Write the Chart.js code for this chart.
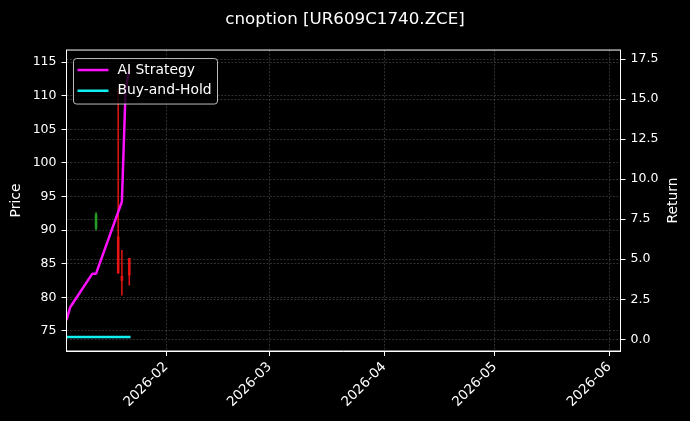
<!DOCTYPE html>
<html>
<head>
<meta charset="utf-8">
<script src="https://cdn.jsdelivr.net/npm/chart.js@4.4.1/dist/chart.umd.min.js"></script>
<style>
  html, body { margin: 0; padding: 0; background: #000; }
  canvas { display: block; }
</style>
</head>
<body>
<canvas id="myChart" width="690" height="421"></canvas>
<script>
// candles on the price axis (left)
var candleDates = ['2026-01-13', '2026-01-19', '2026-01-20', '2026-01-22'];
var candleOpen  = [90.3, 89.0, 83.1, 85.8];
var candleClose = [92.3, 83.6, 82.5, 83.3];
var candleHigh  = [92.6, 111.0, 87.0, 85.8];
var candleLow   = [90.0, 83.6, 80.3, 81.8];

// returns on the right axis
var returnDates = ['2026-01-05', '2026-01-06', '2026-01-12', '2026-01-13', '2026-01-20', '2026-01-21', '2026-01-22'];
var aiReturn    = [1.2, 2.0, 4.1, 4.1, 8.6, 15.6, 16.8];
var bahReturn   = [0.15, 0.15, 0.15, 0.15, 0.15, 0.15, 0.15];

// axis ticks and ranges
var priceTicks  = [75, 80, 85, 90, 95, 100, 105, 110, 115];
var returnTicks = [0, 2.5, 5, 7.5, 10, 12.5, 15, 17.5];
var dateTicks   = ['2026-02-01', '2026-03-01', '2026-04-01', '2026-05-01', '2026-06-01'];
var xStart = '2026-01-05';
var xEnd   = '2026-06-04';
var priceMin = 72.0, priceMax = 116.8;
var returnMin = -0.73, returnMax = 18.06;

var FONT = "'DejaVu Sans', sans-serif";
var red = 'rgba(235, 20, 20, 0.9)';
var green = 'rgba(40, 160, 40, 0.9)';
var gridColor = 'rgba(150, 150, 150, 0.45)';

// date string -> day number
function toDay(s) {
  return Date.UTC(+s.slice(0, 4), +s.slice(5, 7) - 1, +s.slice(8, 10)) / 86400000;
}
function dayLabel(v) {
  var d = new Date(v * 86400000);
  var m = d.getUTCMonth() + 1;
  return d.getUTCFullYear() + '-' + (m < 10 ? '0' + m : m);
}
function candleColor(c) {
  var i = c.dataIndex;
  return candleClose[i] >= candleOpen[i] ? green : red;
}

var wickData = candleDates.map(function(d, i) {
  return { x: toDay(d), y: [candleLow[i], candleHigh[i]] };
});
var bodyData = candleDates.map(function(d, i) {
  return { x: toDay(d), y: [candleOpen[i], candleClose[i]] };
});
var aiData = returnDates.map(function(d, i) { return { x: toDay(d), y: aiReturn[i] }; });
var bahData = returnDates.map(function(d, i) { return { x: toDay(d), y: bahReturn[i] }; });

// black background
var bgPlugin = {
  id: 'bg',
  beforeDraw: function(chart) {
    var ctx = chart.ctx;
    ctx.save();
    ctx.fillStyle = '#000';
    ctx.fillRect(0, 0, chart.width, chart.height);
    ctx.restore();
  }
};

// frame, axis titles and legend box inside the plot
var decoPlugin = {
  id: 'deco',
  afterDraw: function(chart) {
    var ctx = chart.ctx, a = chart.chartArea;
    ctx.save();
    ctx.strokeStyle = '#fff';
    ctx.lineWidth = 1;
    ctx.strokeRect(a.left, a.top, a.right - a.left, a.bottom - a.top);

    // axis titles
    ctx.fillStyle = '#fff';
    ctx.font = '13.9px ' + FONT;
    ctx.textAlign = 'center';
    ctx.textBaseline = 'middle';
    var midY = (a.top + a.bottom) / 2;
    ctx.save();
    ctx.translate(16, midY);
    ctx.rotate(-Math.PI / 2);
    ctx.fillText('Price', 0, 0);
    ctx.restore();
    ctx.save();
    ctx.translate(673, midY);
    ctx.rotate(-Math.PI / 2);
    ctx.fillText('Return', 0, 0);
    ctx.restore();

    // legend
    var lx = a.left + 7, ly = a.top + 8.5, lw = 144, lh = 45.5;
    ctx.beginPath();
    ctx.roundRect(lx, ly, lw, lh, 3);
    ctx.fillStyle = 'rgba(0,0,0,0.8)';
    ctx.fill();
    ctx.strokeStyle = 'rgba(220,220,220,0.85)';
    ctx.lineWidth = 1;
    ctx.stroke();
    var lines = chart.data.datasets.filter(function(ds) { return ds.type === 'line'; });
    lines.forEach(function(ds, i) {
      var yy = ly + 11.5 + i * 20.7;
      ctx.beginPath();
      ctx.moveTo(lx + 4, yy);
      ctx.lineTo(lx + 35, yy);
      ctx.strokeStyle = ds.borderColor;
      ctx.lineWidth = 2.5;
      ctx.stroke();
      ctx.fillStyle = '#fff';
      ctx.textAlign = 'left';
      ctx.fillText(ds.label, lx + 44, yy);
    });
    ctx.restore();
  }
};

var tickFont = { family: FONT, size: 12.5 };

var ctx = document.getElementById('myChart').getContext('2d');
var myChart = new Chart(ctx, {
  type: 'line',
  data: {
    datasets: [{
      type: 'line',
      label: 'AI Strategy',
      data: aiData,
      yAxisID: 'y1',
      borderColor: '#ff10ff',
      borderWidth: 2.5,
      borderJoinStyle: 'round',
      pointRadius: 0,
      tension: 0,
      order: 0
    }, {
      type: 'line',
      label: 'Buy-and-Hold',
      data: bahData,
      yAxisID: 'y1',
      borderColor: '#10f0f0',
      borderWidth: 2.5,
      borderCapStyle: 'square',
      pointRadius: 0,
      tension: 0,
      order: 0
    }, {
      type: 'bar',
      label: 'wick',
      data: wickData,
      yAxisID: 'y',
      grouped: false,
      barThickness: 1,
      backgroundColor: candleColor,
      borderWidth: 0,
      order: 2
    }, {
      type: 'bar',
      label: 'body',
      data: bodyData,
      yAxisID: 'y',
      grouped: false,
      barThickness: 2,
      backgroundColor: candleColor,
      borderWidth: 0,
      order: 1
    }]
  },
  options: {
    responsive: false,
    animation: false,
    events: [],
    layout: { padding: 0 },
    plugins: {
      legend: { display: false },
      tooltip: { enabled: false },
      title: {
        display: true,
        text: 'cnoption [UR609C1740.ZCE]',
        color: '#fff',
        font: { family: FONT, size: 16.7, weight: 'normal' },
        padding: { top: 10, bottom: 20 }
      }
    },
    scales: {
      x: {
        type: 'linear',
        min: toDay(xStart),
        max: toDay(xEnd),
        offset: false,
        afterBuildTicks: function(scale) {
          scale.ticks = dateTicks.map(function(d) { return { value: toDay(d) }; });
        },
        afterFit: function(scale) { scale.height = 70; },
        ticks: {
          color: '#fff',
          font: { family: FONT, size: 13.5 },
          autoSkip: false,
          maxRotation: 45,
          minRotation: 45,
          padding: 3,
          callback: function(v) { return dayLabel(v); }
        },
        grid: {
          color: gridColor,
          lineWidth: 0.7,
          offset: false,
          tickColor: '#fff',
          tickLength: 5,
          tickWidth: 1
        },
        border: { color: '#fff', width: 1, dash: [2, 1.5] }
      },
      y: {
        type: 'linear',
        position: 'left',
        min: priceMin,
        max: priceMax,
        afterBuildTicks: function(scale) {
          scale.ticks = priceTicks.map(function(v) { return { value: v }; });
        },
        afterFit: function(scale) { scale.width = 66.5; },
        ticks: { color: '#fff', font: tickFont, padding: 5 },
        grid: {
          color: gridColor,
          lineWidth: 0.7,
          tickColor: '#fff',
          tickLength: 5,
          tickWidth: 1
        },
        border: { color: '#fff', width: 1, dash: [2, 1.5] }
      },
      y1: {
        type: 'linear',
        position: 'right',
        min: returnMin,
        max: returnMax,
        afterBuildTicks: function(scale) {
          scale.ticks = returnTicks.map(function(v) { return { value: v }; });
        },
        afterFit: function(scale) { scale.width = 69.5; },
        ticks: {
          color: '#fff',
          font: tickFont,
          padding: 5,
          callback: function(v) { return v.toFixed(1); }
        },
        grid: {
          color: gridColor,
          lineWidth: 0.7,
          tickColor: '#fff',
          tickLength: 5,
          tickWidth: 1
        },
        border: { color: '#fff', width: 1, dash: [2, 1.5] }
      }
    }
  },
  plugins: [bgPlugin, decoPlugin]
});
</script>
</body>
</html>
